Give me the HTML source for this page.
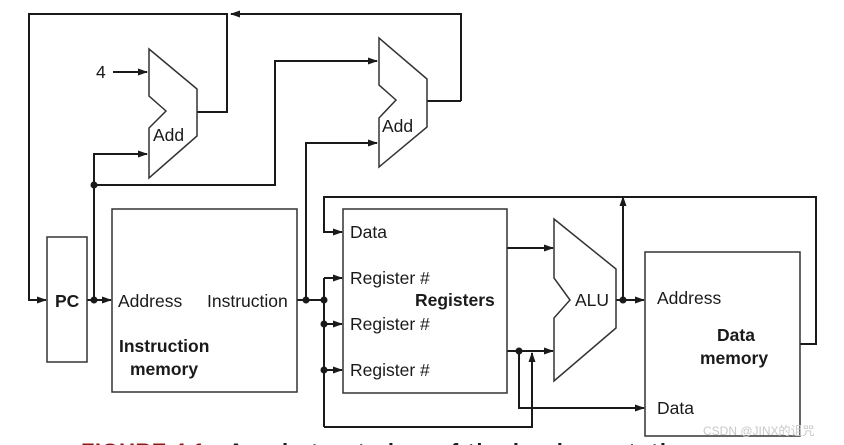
<!DOCTYPE html>
<html><head><meta charset="utf-8"><style>
html,body{margin:0;padding:0;background:#fff;overflow:hidden}
svg{display:block}
text{font-family:"Liberation Sans",Arial,sans-serif;fill:#1a1a1a}
</style></head><body>
<svg width="844" height="445" viewBox="0 0 844 445" xmlns="http://www.w3.org/2000/svg">
<defs>
<marker id="a" markerWidth="10" markerHeight="8" refX="9" refY="4" orient="auto" markerUnits="userSpaceOnUse">
<path d="M0,0.5 L10,4 L0,7.5 Z" fill="#1a1a1a"/></marker>
</defs>
<g fill="none" stroke="#1a1a1a" stroke-width="2">
<polyline points="461,101 461,14 231,14" marker-end="url(#a)"/>
<polyline points="197,112 227,112 227,14 29,14 29,300 46,300" marker-end="url(#a)"/>
<line x1="113" y1="72" x2="147" y2="72" marker-end="url(#a)"/>
<line x1="87" y1="300" x2="111" y2="300" marker-end="url(#a)"/>
<polyline points="94,300 94,154 147,154" marker-end="url(#a)"/>
<polyline points="94,185 275,185 275,61 377,61" marker-end="url(#a)"/>
<polyline points="427,101 461,101"/>
<line x1="297" y1="300" x2="324" y2="300"/>
<polyline points="306,300 306,143 377,143" marker-end="url(#a)"/>
<polyline points="324,278 342,278" marker-end="url(#a)"/>
<line x1="324" y1="278" x2="324" y2="427"/>
<line x1="324" y1="324" x2="342" y2="324" marker-end="url(#a)"/>
<line x1="324" y1="370" x2="342" y2="370" marker-end="url(#a)"/>
<polyline points="324,427 532,427 532,353" marker-end="url(#a)"/>
<line x1="507" y1="248" x2="553" y2="248" marker-end="url(#a)"/>
<line x1="507" y1="351" x2="553" y2="351" marker-end="url(#a)"/>
<polyline points="519,351 519,408 644,408" marker-end="url(#a)"/>
<line x1="616" y1="300" x2="644" y2="300" marker-end="url(#a)"/>
<line x1="623" y1="300" x2="623" y2="197" marker-end="url(#a)"/>
<polyline points="800,344 816,344 816,197 324,197 324,232 342,232" marker-end="url(#a)"/>
</g>
<g fill="#fff" stroke="#333" stroke-width="1.5">
<rect x="47" y="237" width="40" height="125"/>
<rect x="112" y="209" width="185" height="183"/>
<rect x="343" y="209" width="164" height="184"/>
<rect x="645" y="252" width="155" height="184"/>
<polygon points="149,49 197,89 197,136 149,178 149,128 166,111 149,96"/>
<polygon points="379,38 427,79 427,127 379,167 379,118 396,100 379,85"/>
<polygon points="554,219 616,269 616,328 554,381 554,318 570,300 554,278"/>
</g>
<g fill="#1a1a1a">
<circle cx="94" cy="300" r="3.5"/><circle cx="94" cy="185" r="3.5"/>
<circle cx="306" cy="300" r="3.5"/><circle cx="324" cy="300" r="3.5"/>
<circle cx="324" cy="324" r="3.5"/><circle cx="324" cy="370" r="3.5"/>
<circle cx="519" cy="351" r="3.5"/><circle cx="623" cy="300" r="3.5"/>
</g>
<g font-size="17.5">
<text x="96" y="78">4</text>
<text x="153" y="141">Add</text>
<text x="382" y="132">Add</text>
<text x="118" y="307">Address</text>
<text x="207" y="307">Instruction</text>
<text x="350" y="238">Data</text>
<text x="350" y="284">Register #</text>
<text x="350" y="330">Register #</text>
<text x="350" y="376">Register #</text>
<text x="575" y="306">ALU</text>
<text x="657" y="304">Address</text>
<text x="657" y="414">Data</text>
</g>
<g font-size="17.5" font-weight="bold">
<text x="55" y="307">PC</text>
<text x="119" y="352">Instruction</text>
<text x="130" y="375">memory</text>
<text x="415" y="306">Registers</text>
<text x="717" y="341">Data</text>
<text x="700" y="364">memory</text>
</g>
<text x="703" y="435" font-size="12" style="fill:#c8c8c8;font-family:'Liberation Sans','Noto Sans CJK SC',sans-serif">CSDN @JINX的诅咒</text>
<text x="81" y="459" font-size="22" font-weight="bold" style="fill:#8b1a1a" textLength="124">FIGURE 4.1</text>
<text x="228" y="459" font-size="22" font-weight="bold" textLength="468">An abstract view of the implementation</text>
</svg>
</body></html>
